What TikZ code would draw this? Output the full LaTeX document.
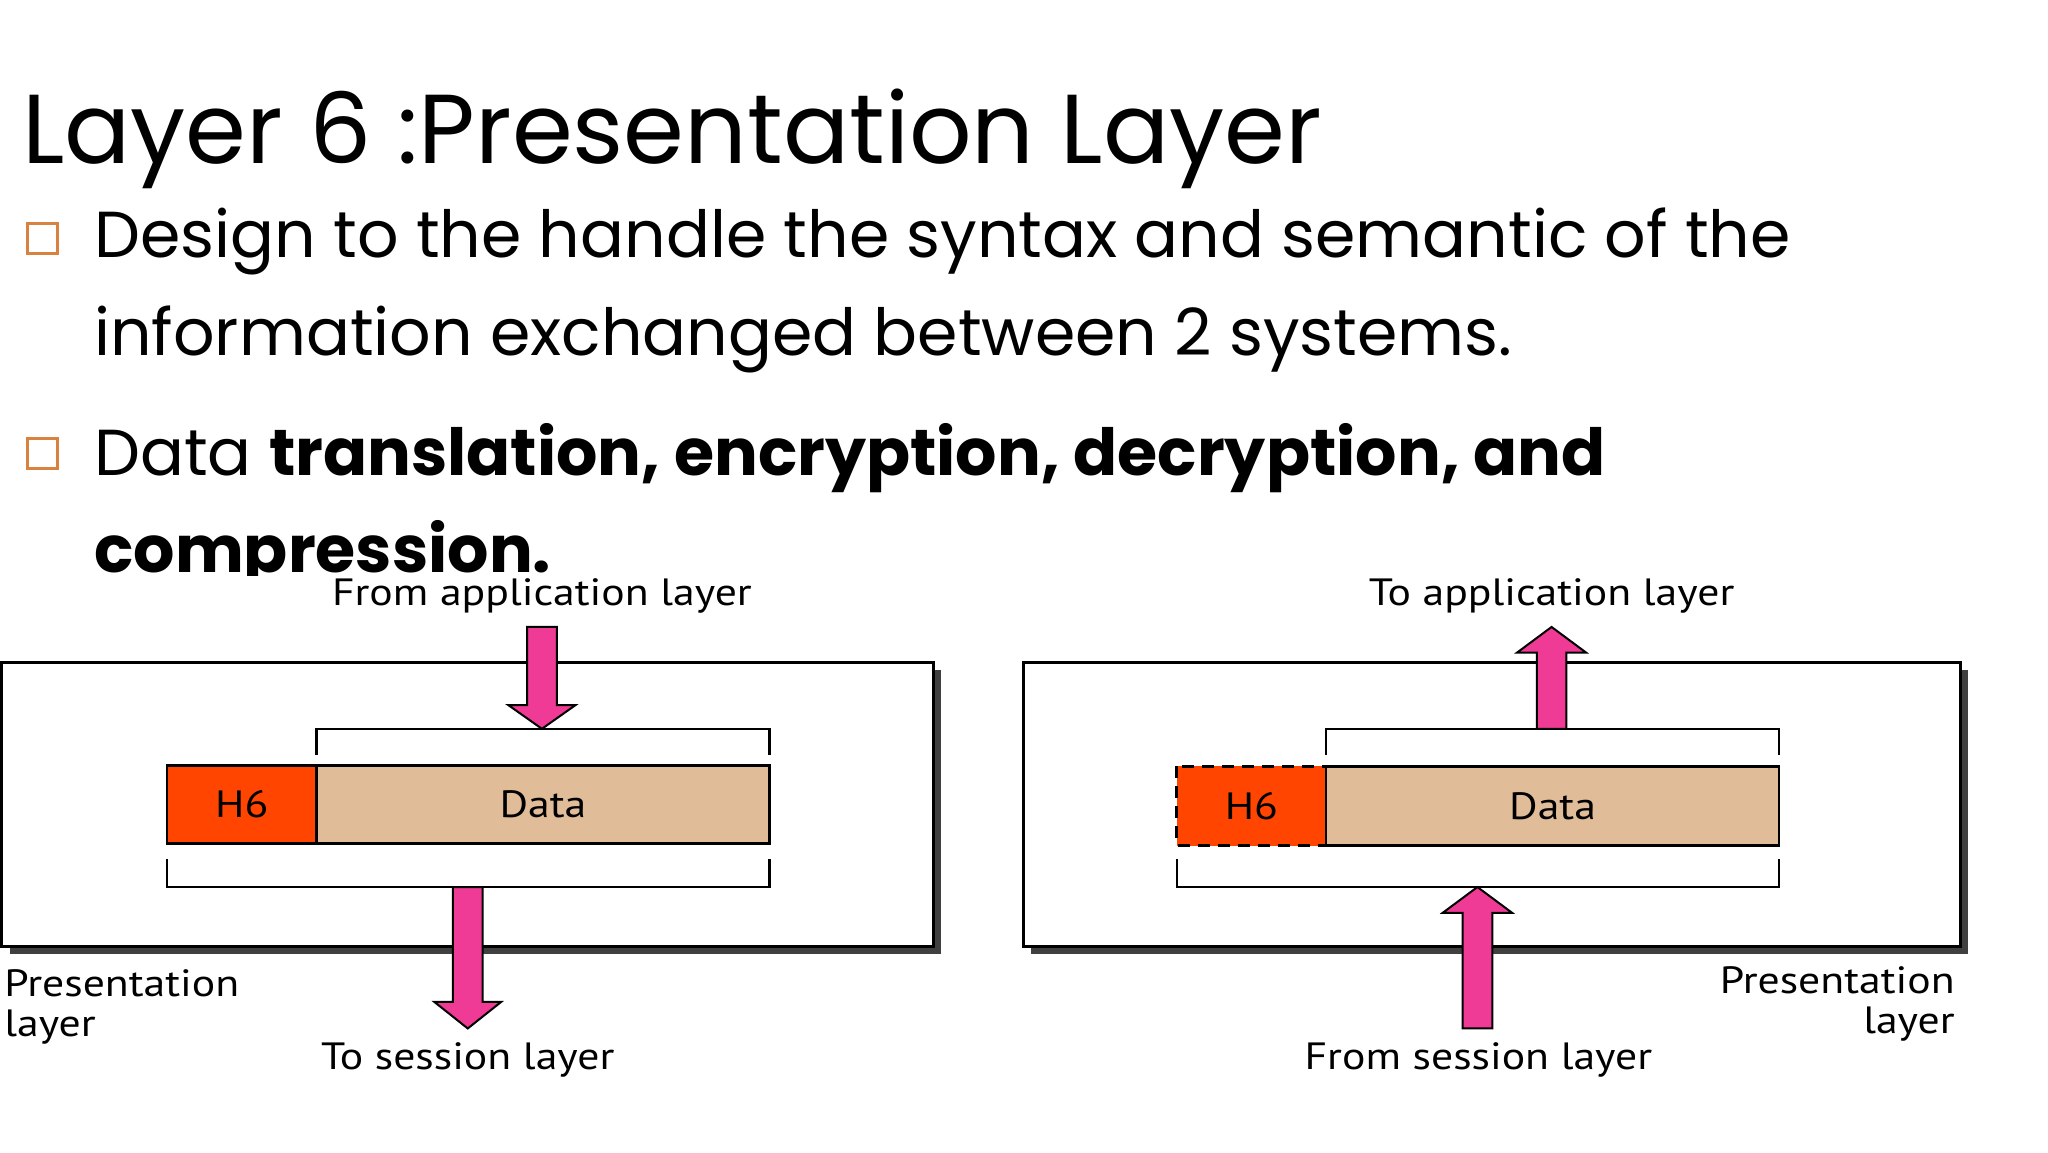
\documentclass[tikz,border=0pt]{standalone}
\usepackage{fontspec}
\setmainfont{Poppins}
\newfontfamily\lblfont[FakeStretch=1.15]{PT Sans}
\definecolor{hred}{HTML}{FF4500}
\definecolor{tan}{HTML}{E0BC98}
\definecolor{pinkarr}{HTML}{EF3B96}
\definecolor{bul}{HTML}{D9823F}
\begin{document}
\begin{tikzpicture}[x=0.4944pt,y=-0.4944pt,
  lbl/.style={font=\lblfont\fontsize{19}{19}\selectfont,inner sep=0pt},
  body/.style={font=\fontsize{32.5}{32.5}\selectfont,inner sep=0pt,anchor=base west},
  bulbox/.style={draw=bul,line width=1.5pt,minimum size=15pt,inner sep=0pt},
  panel/.style={draw=black,line width=1.5pt,fill=white},
  shadow/.style={fill=black!75},
  cell/.style={draw=black,line width=1.3pt},
  brk/.style={draw=black,line width=1.2pt},
  arr/.style={draw=black,line width=1pt,fill=pinkarr}]
\useasboundingbox (0,0) rectangle (2071,1165);
\fill[white] (0,0) rectangle (2071,1165);
% title
\node[inner sep=0pt,anchor=base west,font=\fontsize{49}{49}\selectfont] (title) at (22,165) {Layer 6 :Presentation Layer};
\node[bulbox] (b1) at (43,241) {};
\node[bulbox] (b2) at (43,459) {};
\node[body] (l1) at (95,260) {Design to the handle the syntax and semantic of the};
\node[body] (l2) at (95,359) {information exchanged between 2 systems.};
\node[body] (l3) at (95,481) {Data \textbf{translation, encryption, decryption, and}};
\begin{scope}
\clip (0,0) rectangle (2071,582);
\node[body] (l4) at (95,579) {\textbf{compression.}};
\end{scope}
% ---------- left panel
\fill[shadow] (10,678) rectangle (952,965);
\draw[panel] (2,670) rectangle (944,957);
\draw[cell,fill=hred] (169,774) rectangle node[lbl] (h6a) {H6} (320,853);
\draw[cell,fill=tan] (320,774) rectangle node[lbl] (da) {Data} (778,853);
\draw[brk] (320,763) -- (320,737) -- (778,737) -- (778,763);
\draw[brk] (169,869) -- (169,897) -- (778,897) -- (778,869);
\draw[arr] (533,634) -- (563,634) -- (563,713) -- (582,713) -- (548,737) -- (514,713) -- (533,713) -- cycle;
\draw[arr] (458,897) -- (488,897) -- (488,1013) -- (507,1013) -- (473,1040) -- (439,1013) -- (458,1013) -- cycle;
\node[lbl,anchor=base] (fa) at (548,612) {From application layer};
\node[lbl,anchor=base] (ts) at (473,1082) {To session layer};
\node[lbl,anchor=base west,align=left] (pl1) at (4,1008) {Presentation};
\node[lbl,anchor=base west] (pl2) at (4,1048) {layer};
% ---------- right panel
\fill[shadow] (1043,678) rectangle (1990,965);
\draw[panel] (1035,670) rectangle (1982,957);
\draw[cell,fill=hred,dashed,dash pattern=on 6pt off 4pt] (1190,775) rectangle node[lbl] (h6b) {H6} (1341,855);
\draw[cell,fill=tan] (1341,775) rectangle node[lbl] (db) {Data} (1799,855);
\draw[brk] (1341,763) -- (1341,737) -- (1799,737) -- (1799,763);
\draw[brk] (1190,869) -- (1190,897) -- (1799,897) -- (1799,869);
\draw[arr] (1554,737) -- (1584,737) -- (1584,660) -- (1604,660) -- (1569,634) -- (1534,660) -- (1554,660) -- cycle;
\draw[arr] (1479,1040) -- (1509,1040) -- (1509,923) -- (1529,923) -- (1494,897) -- (1459,923) -- (1479,923) -- cycle;
\node[lbl,anchor=base] (ta) at (1569,612) {To application layer};
\node[lbl,anchor=base] (fs) at (1495,1082) {From session layer};
\node[lbl,anchor=base east] (pr1) at (1977,1005) {Presentation};
\node[lbl,anchor=base east] (pr2) at (1977,1045) {layer};
\end{tikzpicture}
\end{document}
